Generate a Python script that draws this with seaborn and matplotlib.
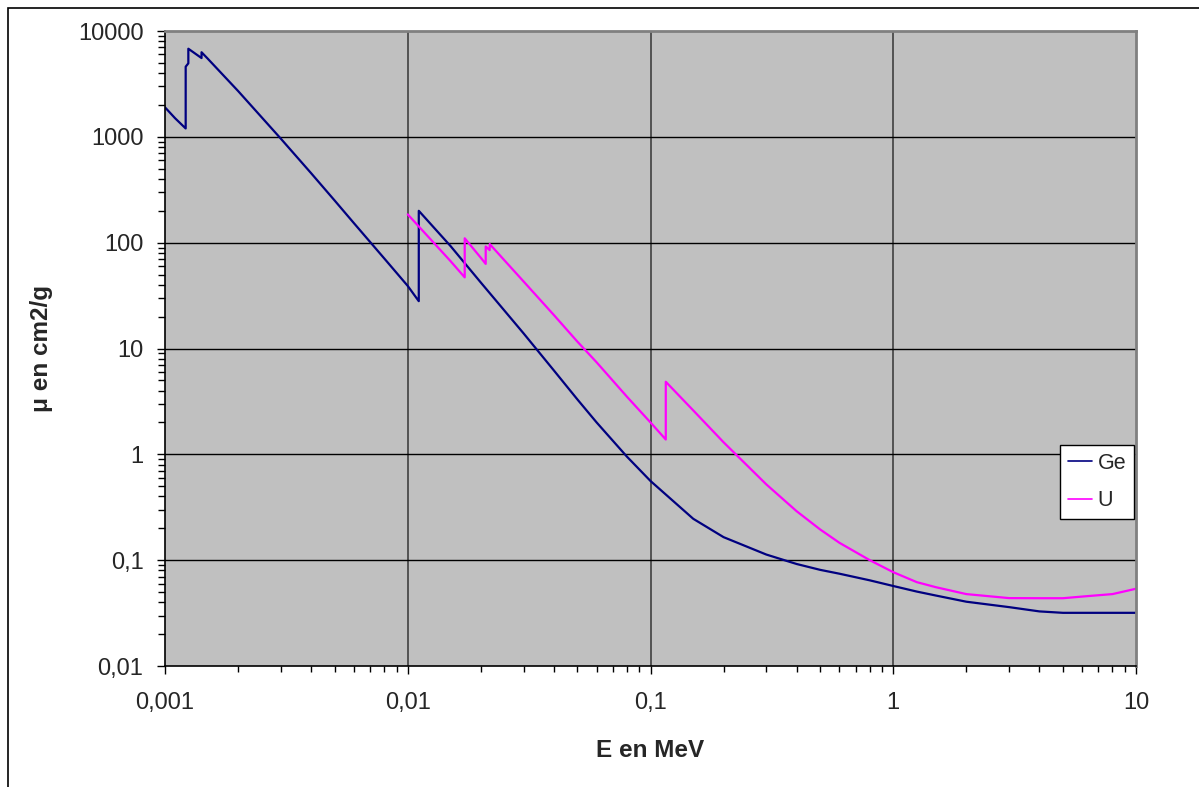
import numpy as np
import pandas as pd
import matplotlib
matplotlib.use("Agg")
import matplotlib.pyplot as plt
from matplotlib.patches import Rectangle
from matplotlib.ticker import LogLocator, NullFormatter
import seaborn as sns

# ---- data ----
ge_energy = [0.001, 0.0011, 0.0012167, 0.0012167, 0.0012478, 0.0012478, 0.0014143, 0.0014143,
             0.0015, 0.002, 0.003, 0.004, 0.005, 0.006, 0.008, 0.01, 0.0111031, 0.0111031,
             0.015, 0.02, 0.03, 0.04, 0.05, 0.06, 0.08, 0.1, 0.15, 0.2, 0.3, 0.4, 0.5, 0.6,
             0.8, 1.0, 1.25, 1.5, 2.0, 3.0, 4.0, 5.0, 6.0, 8.0, 10.0]
ge_mu = [1900, 1500, 1200, 4600, 4950, 6800, 5550, 6300,
         5475, 2711, 961, 453, 250, 153, 71, 39, 28, 200,
         93, 42, 13.9, 6.2, 3.3, 2.0, 0.95, 0.56, 0.246, 0.165, 0.113, 0.092, 0.081, 0.0745,
         0.0645, 0.057, 0.0505, 0.0463, 0.0405, 0.036, 0.0328, 0.0318, 0.0318, 0.0318, 0.0318]

u_energy = [0.01, 0.015, 0.017166, 0.017166, 0.02, 0.020948, 0.020948, 0.021757, 0.021757,
            0.03, 0.04, 0.05, 0.06, 0.08, 0.1, 0.1156, 0.1156, 0.15, 0.2, 0.3, 0.4, 0.5,
            0.6, 0.8, 1.0, 1.25, 1.5, 2.0, 3.0, 4.0, 5.0, 6.0, 8.0, 10.0]
u_mu = [185, 67, 47, 110, 72, 63, 92, 85, 97,
        43, 20.7, 11.6, 7.4, 3.5, 2.0, 1.38, 4.85, 2.6, 1.3, 0.52, 0.29, 0.195,
        0.146, 0.1, 0.077, 0.062, 0.0555, 0.0478, 0.0438, 0.0437, 0.0437, 0.0453, 0.0478, 0.0537]

series_names = ["Ge", "U"]
x_tick_values = [0.001, 0.01, 0.1, 1, 10]
x_tick_labels = ["0,001", "0,01", "0,1", "1", "10"]
y_tick_values = [0.01, 0.1, 1, 10, 100, 1000, 10000]
y_tick_labels = ["0,01", "0,1", "1", "10", "100", "1000", "10000"]

df = pd.DataFrame({
    "E": ge_energy + u_energy,
    "mu": ge_mu + u_mu,
    "element": [series_names[0]] * len(ge_energy) + [series_names[1]] * len(u_energy),
})

sns.set_style("white")
plt.rcParams["font.family"] = ["Liberation Sans", "DejaVu Sans"]

W, H = 1199, 787
fig = plt.figure(figsize=(W / 100, H / 100), dpi=100)
ax = fig.add_axes([165 / W, 1 - 666 / H, (1136 - 165) / W, (666 - 31) / H])
ax.set_facecolor("#C0C0C0")

sns.lineplot(data=df, x="E", y="mu", hue="element", sort=False, estimator=None,
             palette={"Ge": "#000080", "U": "#FF00FF"}, linewidth=1.6, ax=ax)

ax.set_xscale("log")
ax.set_yscale("log")
ax.set_xlim(0.001, 10)
ax.set_ylim(0.01, 10000)

# gridlines
for v in x_tick_values[1:-1]:
    ax.axvline(v, color="#4a4a4a", lw=1.3, zorder=1)
for v in y_tick_values[1:-1]:
    ax.axhline(v, color="black", lw=1.0, zorder=1)

ax.set_xticks(x_tick_values, x_tick_labels)
ax.set_yticks(y_tick_values, y_tick_labels)
ax.xaxis.set_minor_locator(LogLocator(base=10, subs=np.arange(2, 10), numticks=20))
ax.yaxis.set_minor_locator(LogLocator(base=10, subs=np.arange(2, 10), numticks=20))
ax.xaxis.set_minor_formatter(NullFormatter())
ax.yaxis.set_minor_formatter(NullFormatter())

ax.tick_params(axis="x", which="major", direction="out", length=5.5, width=1, color="black",
               labelsize=17, pad=13, bottom=True)
ax.tick_params(axis="x", which="minor", direction="out", length=4, width=1, color="black", bottom=True)
ax.tick_params(axis="y", which="major", direction="out", length=5.5, width=1, color="black",
               labelsize=17, pad=10, left=True)
ax.tick_params(axis="y", which="minor", direction="out", length=5, width=1, color="black", left=True)

for s in ["top", "right"]:
    ax.spines[s].set_color("#808080")
    ax.spines[s].set_linewidth(2)
for s in ["left", "bottom"]:
    ax.spines[s].set_color("black")
    ax.spines[s].set_linewidth(1.2)
for s in ax.spines.values():
    s.set_visible(True)

ax.set_xlabel("E en MeV", fontsize=17.5, fontweight="bold", labelpad=18)
ax.set_ylabel("μ en cm2/g", fontsize=17.5, fontweight="bold", labelpad=18)

ax.legend(title=None, loc="center", bbox_to_anchor=(1097 / W, 1 - 482 / H),
          bbox_transform=fig.transFigure, frameon=True, fancybox=False, framealpha=1,
          facecolor="white", edgecolor="black", fontsize=15.5, handlelength=1.15,
          handletextpad=0.25, borderpad=0.35, labelspacing=0.75, borderaxespad=0)
ax.get_legend().get_frame().set_linewidth(1.0)
for h in ax.get_legend().get_lines():
    h.set_linewidth(1.2)

# outer chart border
fig.add_artist(Rectangle((8 / W, -0.1), 1.2, (1 - 8 / H) + 0.1, transform=fig.transFigure,
                         fill=False, edgecolor="black", linewidth=1.2))

fig.savefig("out.png", dpi=100)
